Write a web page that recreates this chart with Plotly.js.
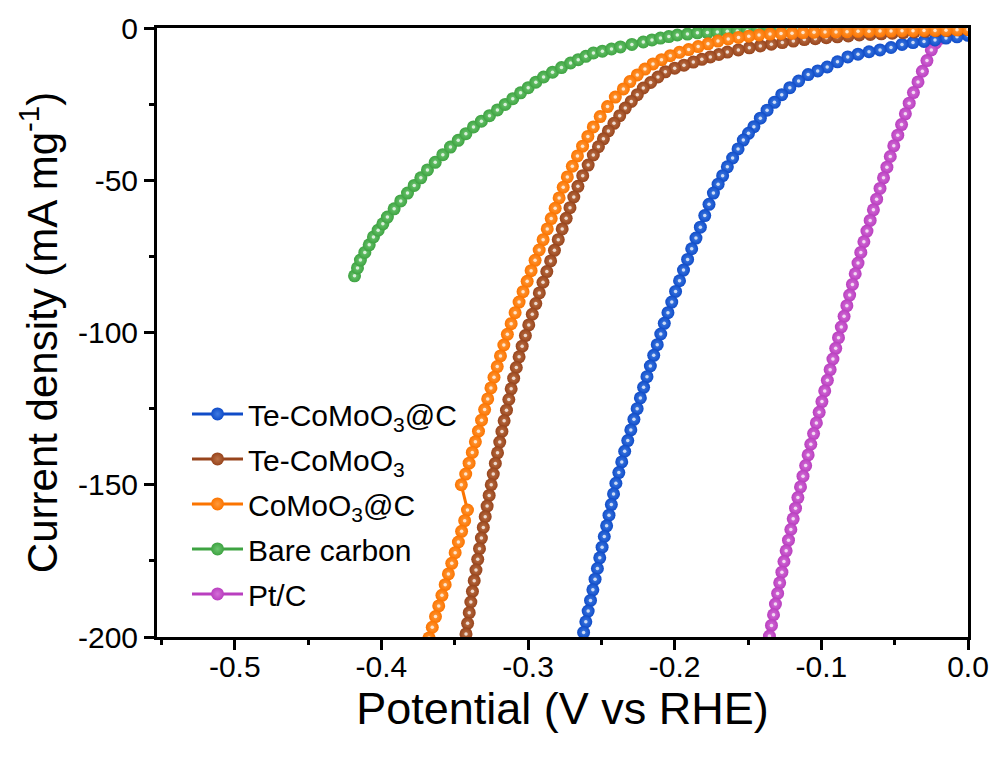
<!DOCTYPE html>
<html><head><meta charset="utf-8">
<script src="https://cdn.plot.ly/plotly-3.0.1.min.js"></script>
<style>html,body{margin:0;padding:0;background:#fff}#chart{width:999px;height:760px}</style>
</head><body><div id="chart"></div>
<script>
// Potential (V vs RHE) and current density (mA mg^-1)
const blueX = [0, -0.0075, -0.015, -0.0225, -0.030, -0.0375, -0.045, -0.0525, -0.060, -0.0675, -0.075, -0.082, -0.089, -0.096, -0.1025, -0.109, -0.1155, -0.1215, -0.127, -0.132, -0.137, -0.1416, -0.146, -0.1497, -0.1532, -0.1568, -0.1605, -0.1641, -0.1673, -0.1704, -0.1736, -0.1766, -0.1795, -0.1825, -0.1855, -0.1884, -0.1912, -0.1940, -0.1967, -0.1994, -0.2020, -0.2046, -0.2071, -0.2095, -0.2119, -0.2143, -0.2166, -0.2189, -0.2212, -0.2234, -0.2256, -0.2278, -0.2299, -0.2320, -0.2341, -0.2361, -0.2381, -0.2401, -0.2417, -0.2432, -0.2448, -0.2464, -0.2480, -0.2495, -0.2511, -0.2527, -0.2543, -0.2558, -0.2574, -0.2590, -0.2606, -0.2621, -0.2637];
const blueY = [-2.4, -2.9, -3.3, -3.9, -4.4, -4.8, -5.4, -6.4, -7.2, -7.8, -8.6, -9.5, -11.1, -12.8, -14.1, -15.3, -17.4, -19.6, -21.9, -24.4, -27.0, -29.6, -32.4, -34.6, -36.8, -39.7, -42.7, -45.6, -48.5, -51.3, -54.2, -57.9, -61.6, -65.4, -69, -72.5, -76, -79.5, -83, -86.5, -90, -93.5, -97, -100.5, -104, -107.5, -111, -114.5, -118, -121.5, -125, -128.5, -132, -135.5, -139, -142.5, -146, -149.5, -153, -156.5, -160, -163.5, -167, -170.5, -174, -177.5, -181, -184.5, -188, -191.5, -195, -198.5, -202];

const brownX = [0, -0.0066, -0.0141, -0.0216, -0.0291, -0.0366, -0.0441, -0.0516, -0.0591, -0.0666, -0.0741, -0.0816, -0.0891, -0.0966, -0.1041, -0.1116, -0.1191, -0.1266, -0.1341, -0.1416, -0.1491, -0.1566, -0.1641, -0.1699, -0.1757, -0.1815, -0.1873, -0.1937, -0.2000, -0.2064, -0.2114, -0.2164, -0.2214, -0.2255, -0.2296, -0.2337, -0.2375, -0.2414, -0.2452, -0.2486, -0.2520, -0.2555, -0.2590, -0.2627, -0.2660, -0.2688, -0.2714, -0.2740, -0.2767, -0.2794, -0.2820, -0.2846, -0.2872, -0.2898, -0.2923, -0.2947, -0.2971, -0.2995, -0.3018, -0.3040, -0.3061, -0.3080, -0.3098, -0.3115, -0.3131, -0.3147, -0.3163, -0.3178, -0.3193, -0.3208, -0.3223, -0.3237, -0.3251, -0.3265, -0.3279, -0.3292, -0.3305, -0.3318, -0.3331, -0.3343, -0.3355, -0.3367, -0.3379, -0.3390, -0.3401, -0.3412, -0.3423, -0.3434];
const brownY = [-0.5, -0.6, -0.8, -0.9, -1.1, -1.3, -1.5, -1.7, -1.9, -2.1, -2.3, -2.6, -2.9, -3.2, -3.5, -3.8, -4.3, -4.8, -5.3, -5.9, -6.5, -7.2, -7.9, -8.7, -9.5, -10.3, -11.2, -12.2, -13.2, -14.4, -16.1, -17.9, -19.7, -21.9, -24.1, -26.3, -28.8, -31.3, -33.8, -36.4, -39.0, -41.7, -45, -48.5, -52, -55.5, -59, -62.5, -66, -69.5, -73, -76.5, -80, -83.5, -87, -90.5, -94, -97.5, -101, -104.5, -108, -111.5, -115, -118.5, -122, -125.5, -129, -132.5, -136, -139.5, -143, -146.5, -150, -153.5, -157, -160.5, -164, -167.5, -171, -174.5, -178, -181.5, -185, -188.5, -192, -195.5, -199, -202.5];

const orangeX = [0, -0.0075, -0.015, -0.0225, -0.030, -0.0375, -0.045, -0.0525, -0.060, -0.0675, -0.075, -0.0825, -0.090, -0.0975, -0.105, -0.1125, -0.120, -0.1275, -0.135, -0.1425, -0.1495, -0.1565, -0.1635, -0.1705, -0.1773, -0.1840, -0.1905, -0.1968, -0.2030, -0.2090, -0.2148, -0.2203, -0.2255, -0.2305, -0.2350, -0.2405, -0.2458, -0.2508, -0.2555, -0.2592, -0.2628, -0.2663, -0.2698, -0.2732, -0.2760, -0.2788, -0.2815, -0.2842, -0.2869, -0.2897, -0.2924, -0.2952, -0.2979, -0.3006, -0.3034, -0.3061, -0.3088, -0.3115, -0.3141, -0.3165, -0.3188, -0.3210, -0.3232, -0.3253, -0.3275, -0.3296, -0.3317, -0.3338, -0.3359, -0.3380, -0.3402, -0.3425, -0.3455, -0.3413, -0.3432, -0.3453, -0.3475, -0.3497, -0.3520, -0.3543, -0.3565, -0.3587, -0.3609, -0.3631, -0.3653, -0.3675, -0.3697];
const orangeY = [-0.5, -0.6, -0.7, -0.8, -0.8, -0.9, -0.9, -1.0, -1.0, -1.1, -1.1, -1.2, -1.3, -1.3, -1.4, -1.5, -1.7, -1.8, -2.0, -2.3, -2.7, -3.1, -3.6, -4.3, -5.2, -6.1, -7.1, -8.0, -9.1, -10.4, -11.8, -13.5, -15.4, -17.6, -20.0, -22.7, -25.8, -29.1, -32.5, -35.6, -38.8, -42.0, -45.4, -48.9, -52.3, -55.8, -59.2, -62.6, -66.0, -69.5, -72.9, -76.3, -79.7, -83.2, -86.6, -90.0, -93.5, -97.1, -100.6, -104.1, -107.7, -111.2, -114.7, -118.2, -121.8, -125.3, -128.8, -132.4, -135.9, -139.4, -142.9, -146.5, -150.0, -158.3, -161.8, -165.3, -168.8, -172.3, -175.8, -179.3, -182.8, -186.3, -189.8, -193.3, -196.8, -200.3, -203.8];

const greenX = [-0.4183, -0.4163, -0.4143, -0.4113, -0.4083, -0.4054, -0.4022, -0.3990, -0.3959, -0.3913, -0.3868, -0.3822, -0.3776, -0.3731, -0.3686, -0.3633, -0.3581, -0.3529, -0.3476, -0.3424, -0.3372, -0.3318, -0.3263, -0.3209, -0.3156, -0.3104, -0.3051, -0.2999, -0.2947, -0.2894, -0.2833, -0.2772, -0.2710, -0.2658, -0.2606, -0.2554, -0.2493, -0.2431, -0.2370, -0.2292, -0.2214, -0.2155, -0.2097, -0.2040, -0.1982, -0.1913, -0.1845, -0.1777, -0.1709, -0.1641, -0.1573, -0.1505, -0.1436, -0.1366, -0.1296, -0.1226, -0.1156, -0.1086, -0.1016, -0.0946, -0.0876, -0.0806, -0.0736, -0.0666, -0.0596, -0.0526, -0.0456, -0.0386, -0.0316, -0.0246, -0.0176, -0.0106, -0.0036];
const greenY = [-81.4, -78.8, -76.2, -73.7, -71.2, -68.6, -66.4, -64.3, -62.1, -59.4, -56.8, -54.2, -51.7, -49.2, -46.6, -44.1, -41.6, -39.1, -36.9, -34.7, -32.5, -30.6, -28.8, -26.9, -25.1, -23.2, -21.3, -19.6, -17.8, -16.1, -14.5, -13.0, -11.5, -10.4, -9.3, -8.2, -7.6, -6.9, -6.2, -5.4, -4.6, -3.9, -3.3, -2.8, -2.3, -2.0, -1.6, -1.5, -1.3, -1.1, -1.0, -0.8, -0.7, -0.7, -0.6, -0.6, -0.6, -0.5, -0.5, -0.5, -0.5, -0.4, -0.4, -0.4, -0.4, -0.3, -0.3, -0.3, -0.3, -0.2, -0.2, -0.2, -0.2];

const ptX = [0, -0.0052, -0.0100, -0.0148, -0.0189, -0.0222, -0.0250, -0.0280, -0.0311, -0.0341, -0.0372, -0.0401, -0.0427, -0.0453, -0.0479, -0.0506, -0.0530, -0.0553, -0.0576, -0.0600, -0.0623, -0.0645, -0.0667, -0.0689, -0.0710, -0.0731, -0.0750, -0.0769, -0.0788, -0.0807, -0.0826, -0.0845, -0.0864, -0.0883, -0.0902, -0.0921, -0.0940, -0.0959, -0.0977, -0.0996, -0.1015, -0.1034, -0.1053, -0.1072, -0.1090, -0.1107, -0.1125, -0.1142, -0.1160, -0.1176, -0.1192, -0.1208, -0.1224, -0.1240, -0.1255, -0.1269, -0.1284, -0.1298, -0.1313, -0.1326, -0.1340, -0.1354, -0.1368];
const ptY = [-0.7, -1.0, -1.5, -2.3, -3.4, -5.0, -7.2, -10.7, -14.2, -17.7, -21.2, -24.7, -28.2, -31.7, -35.2, -38.7, -42.2, -45.7, -49.2, -52.7, -56.2, -59.7, -63.2, -66.7, -70.2, -73.7, -77.2, -80.7, -84.2, -87.7, -91.2, -94.7, -98.2, -101.7, -105.2, -108.7, -112.2, -115.7, -119.2, -122.7, -126.2, -129.7, -133.2, -136.7, -140.2, -143.7, -147.2, -150.7, -154.2, -157.7, -161.2, -164.7, -168.2, -171.7, -175.2, -178.7, -182.2, -185.7, -189.2, -192.7, -196.2, -199.7, -203.2];

const seriesNames = ['Te-CoMoO<sub>3</sub>@C', 'Te-CoMoO<sub>3</sub>', 'CoMoO<sub>3</sub>@C', 'Bare carbon', 'Pt/C'];
const xTickVals = [-0.5, -0.4, -0.3, -0.2, -0.1, 0.0];
const xTickText = ['-0.5', '-0.4', '-0.3', '-0.2', '-0.1', '0.0'];
const yTickVals = [0, -50, -100, -150, -200];
const yTickText = ['0', '-50', '-100', '-150', '-200'];

function mk(x, y, name, color, tint, rank) {
  return {
    type: 'scatter', mode: 'lines+markers', x: x, y: y, name: name,
    legendrank: rank, legendgroup: 'g' + rank,
    line: {color: color, width: 3},
    marker: {size: 13, color: color, gradient: {type: 'radial', color: tint}, line: {width: 0}},
    cliponaxis: true
  };
}
function shine(x, y, rank) {
  return {
    type: 'scatter', mode: 'markers', x: x, y: y, showlegend: false,
    legendgroup: 'g' + rank, hoverinfo: 'skip',
    marker: {size: 3.5, color: 'rgba(255,255,255,0.75)', line: {width: 0}},
    cliponaxis: true
  };
}

const traces = [
  mk(ptX, ptY, seriesNames[4], '#b93fbf', '#d46fd8', 5), shine(ptX, ptY, 5),
  mk(greenX, greenY, seriesNames[3], '#3ea342', '#6cc66f', 4), shine(greenX, greenY, 4),
  mk(blueX, blueY, seriesNames[0], '#104cc8', '#3f7be2', 1), shine(blueX, blueY, 1),
  mk(brownX, brownY, seriesNames[1], '#97441c', '#bc7146', 2), shine(brownX, brownY, 2),
  mk(orangeX, orangeY, seriesNames[2], '#fb7400', '#ff9a3c', 3), shine(orangeX, orangeY, 3)
];

const axisCommon = {
  ticks: 'outside', ticklen: 10, tickwidth: 3, tickcolor: '#000',
  showline: true, linewidth: 3, linecolor: '#000', mirror: true,
  showgrid: false, zeroline: false, tickmode: 'array',
  tickfont: {size: 30, color: '#000'}
};

const layout = {
  width: 999, height: 760,
  margin: {l: 157, r: 31, t: 28, b: 123},
  paper_bgcolor: '#fff', plot_bgcolor: '#fff',
  font: {family: 'Liberation Sans, Arial, sans-serif', color: '#000'},
  showlegend: true,
  xaxis: Object.assign({}, axisCommon, {
    range: [-0.553, 0], tickvals: xTickVals, ticktext: xTickText,
    ticklabelstandoff: -9,
    minor: {tickmode: 'linear', dtick: 0.05, tick0: 0, ticks: 'outside', ticklen: 5, tickwidth: 3, tickcolor: '#000', showgrid: false},
    title: {text: 'Potential (V vs RHE)', font: {size: 45, color: '#000'}, standoff: 5}
  }),
  yaxis: Object.assign({}, axisCommon, {
    range: [-200, 0], tickvals: yTickVals, ticktext: yTickText,
    minor: {tickmode: 'linear', dtick: 25, tick0: 0, ticks: 'outside', ticklen: 5, tickwidth: 3, tickcolor: '#000', showgrid: false},
    title: {text: 'Current density (mA mg<sup>-1</sup>)', font: {size: 42, color: '#000'}, standoff: 8}
  }),
  legend: {
    x: 0.037, y: 0.409, xanchor: 'left', yanchor: 'top',
    bgcolor: 'rgba(0,0,0,0)', borderwidth: 0, itemwidth: 51,
    font: {size: 30, color: '#000'}, traceorder: 'grouped', tracegroupgap: 3
  }
};

Plotly.newPlot('chart', traces, layout, {displayModeBar: false, staticPlot: true});
</script>
</body></html>
